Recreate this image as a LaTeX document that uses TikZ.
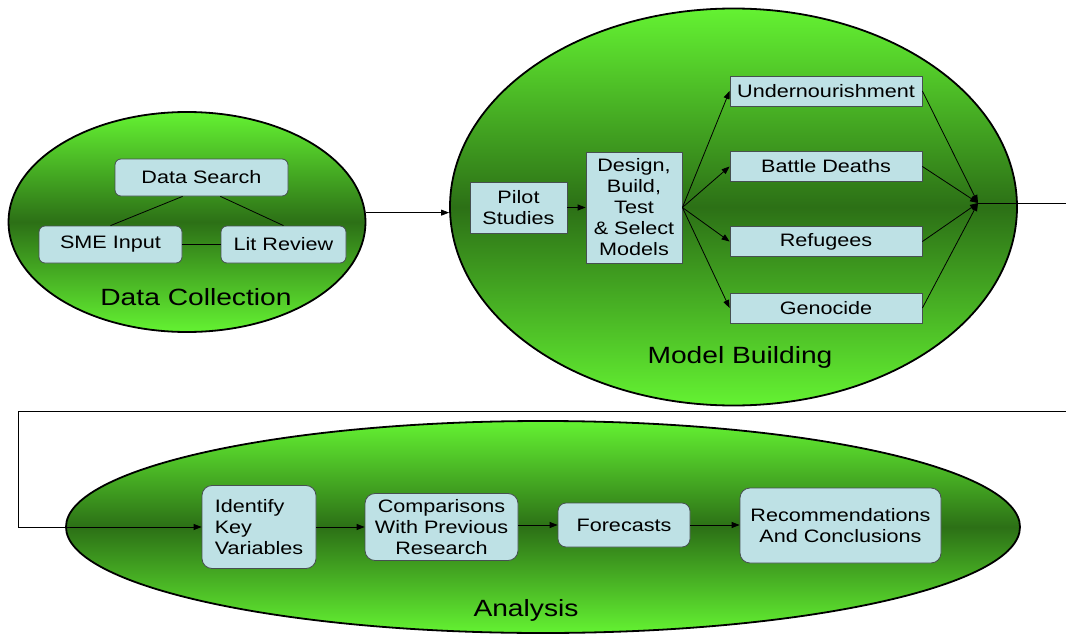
\documentclass[tikz,border=0pt]{standalone}
\usepackage{fontspec}
\setmainfont{Liberation Sans}[FakeStretch=1.2]
\usepackage{tikz}
\usetikzlibrary{shapes.geometric, arrows.meta, positioning, calc}
\definecolor{leafbright}{RGB}{100,242,50}
\definecolor{leafdark}{RGB}{44,112,22}
\definecolor{boxblue}{RGB}{190,225,229}
\definecolor{boxedge}{RGB}{70,80,80}

\begin{document}
\begin{tikzpicture}[x=1pt, y=-1pt,
    phase/.style={ellipse, draw=black, line width=1.8pt, inner sep=0pt,
        top color=leafbright, bottom color=leafbright, middle color=leafdark},
    task/.style={draw=boxedge, fill=boxblue, line width=0.8pt, inner sep=0pt,
        align=center, font=\fontsize{18}{21}\selectfont},
    soft/.style={task, rounded corners=6pt},
    phaselabel/.style={font=\fontsize{23.5}{28}\selectfont},
    flow/.style={-{Triangle[length=8pt,width=6pt]}, line width=0.8pt}]
    \useasboundingbox (0,0) rectangle (1066,634);

    % Phase ellipses
    \node[phase, minimum width=357pt, minimum height=220pt] (dc) at (187,222) {};
    \node[phase, minimum width=567pt, minimum height=397pt] (mb) at (733.5,207) {};
    \node[phase, minimum width=954pt, minimum height=212pt] (an) at (543,527) {};

    % Data collection
    \node[soft, minimum width=173pt, minimum height=37pt] (search) at (201.5,177.5) {Data Search};
    \node[soft, minimum width=143pt, minimum height=37pt] (sme) at (110.5,244.5) {SME Input};
    \node[soft, minimum width=125pt, minimum height=37pt] (lit) at (283.5,244.5) {Lit Review};
    \node[phaselabel] (dclabel) at (196,297) {Data Collection};
    \draw[line width=0.8pt] (search.225) -- (sme.north);
    \draw[line width=0.8pt] (search.315) -- (lit.north);
    \draw[line width=0.8pt] (sme) -- (lit);

    \draw[flow] (dc.3) -- (dc.3 -| mb.west);

    % Model building
    \node[task, minimum width=97pt, minimum height=51pt] (pilot) at (518.5,207.5) {Pilot\\Studies};
    \node[task, minimum width=96pt, minimum height=111pt] (design) at (634,207.5)
        {Design,\\Build,\\Test\\\& Select\\Models};
    \node[task, minimum width=192pt, minimum height=30pt] (under) at (826,91) {Undernourishment};
    \node[task, minimum width=192pt, minimum height=30pt] (battle) at (826,166.5) {Battle Deaths};
    \node[task, minimum width=192pt, minimum height=30pt] (refug) at (826,241.5) {Refugees};
    \node[task, minimum width=192pt, minimum height=30pt] (geno) at (826,308) {Genocide};
    \node[phaselabel] (mblabel) at (740,357) {Model Building};
    \coordinate (merge) at (978,203);

    \draw[flow] (pilot) -- (design);
    \foreach \out in {under, battle, refug, geno} {
        \draw[flow] (design.east) -- (\out.west);
        \draw[flow] (\out.east) -- (merge);
    }

    % Loop back to analysis
    \coordinate (exitR) at (1066,203);
    \coordinate (backR) at (1066,411);
    \coordinate (backL) at (18,411);
    \draw[line width=0.8pt] (merge) -- (exitR);

    % Analysis
    \node[soft, rounded corners=10pt, minimum width=114pt, minimum height=83pt, align=left] (keyvar) at (259,527)
        {Identify\\Key\\Variables};
    \node[soft, rounded corners=10pt, minimum width=153pt, minimum height=67pt] (compare) at (441.5,527)
        {Comparisons\\With Previous\\Research};
    \node[soft, rounded corners=8pt, minimum width=132pt, minimum height=44pt] (fcast) at (624,525) {Forecasts};
    \node[soft, rounded corners=10pt, minimum width=201pt, minimum height=75pt] (recom) at (840.5,525.5)
        {Recommendations\\And Conclusions};
    \node[phaselabel] (anlabel) at (526,610) {Analysis};

    \draw[flow] (backR) -- (backL) |- (keyvar.west);
    \draw[flow] (keyvar) -- (compare);
    \draw[flow] (compare.east |- fcast.west) -- (fcast);
    \draw[flow] (fcast) -- (recom.west |- fcast.east);
\end{tikzpicture}
\end{document}
